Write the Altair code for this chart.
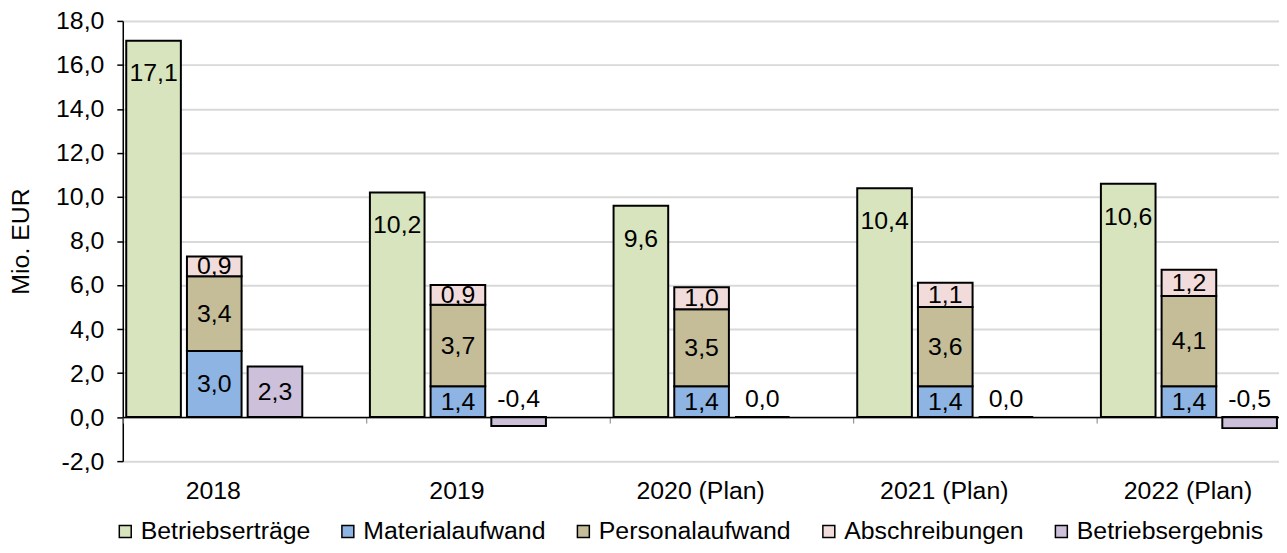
import altair as alt
import pandas as pd

years = ["2018", "2019", "2020 (Plan)", "2021 (Plan)", "2022 (Plan)"]
ertraege = [17.1, 10.2, 9.6, 10.4, 10.6]
material = [3.0, 1.4, 1.4, 1.4, 1.4]
personal = [3.4, 3.7, 3.5, 3.6, 4.1]
abschreibungen = [0.9, 0.9, 1.0, 1.1, 1.2]
ergebnis = [2.3, -0.4, 0.0, 0.0, -0.5]

series_names = ["Betriebserträge", "Materialaufwand", "Personalaufwand",
                "Abschreibungen", "Betriebsergebnis"]
series_colors = ["#d7e4bd", "#8db4e2", "#c4bd97", "#f2dcdb", "#ccc0da"]
y_ticks = [-2, 0, 2, 4, 6, 8, 10, 12, 14, 16, 18]

rows = []
for i, yr in enumerate(years):
    rows.append(dict(year=yr, slot="A", series=series_names[0],
                     value=ertraege[i], y0=0.0, y1=ertraege[i]))
    base = 0.0
    for name, arr in [(series_names[1], material), (series_names[2], personal),
                      (series_names[3], abschreibungen)]:
        rows.append(dict(year=yr, slot="B", series=name, value=arr[i],
                         y0=base, y1=base + arr[i]))
        base += arr[i]
    rows.append(dict(year=yr, slot="C", series=series_names[4],
                     value=ergebnis[i], y0=0.0, y1=ergebnis[i]))
df = pd.DataFrame(rows)

FONT = "Liberation Sans, Arial, sans-serif"
FS = 25
W = 1163.5
H = 443

x_enc = alt.X(
    "year:N", sort=years,
    scale=alt.Scale(domain=years, range=[0, 1226], paddingInner=0, paddingOuter=0),
    axis=alt.Axis(title=None, bandPosition=0, domain=True, domainColor="black",
                  domainWidth=1.5, ticks=True, tickSize=6, tickColor="#7f7f7f",
                  tickWidth=1, labelOffset=-31.5, labelPadding=56, offset=-44.3,
                  labelFontSize=FS, labelColor="black", labelAngle=0,
                  labelFont=FONT, grid=False, zindex=1, labelOverlap=False),
)
xoff_enc = alt.XOffset("slot:N", scale=alt.Scale(domain=["A", "B", "C", "D"],
                                                  paddingInner=0.1, paddingOuter=0.057))
y_scale = alt.Scale(domain=[-2, 18], nice=False, zero=False)

base = alt.Chart(df)

bars = base.mark_bar(stroke="black", strokeWidth=2).encode(
    x=x_enc,
    xOffset=xoff_enc,
    y=alt.Y("y1:Q", scale=y_scale,
            axis=alt.Axis(values=y_ticks, format=".1f", title="Mio. EUR",
                          labelFontSize=FS, labelColor="black", labelFont=FONT,
                          labelPadding=13, tickSize=6, tickColor="black",
                          tickWidth=1.5, domainColor="black", domainWidth=1.5,
                          gridColor="#d9d9d9", gridWidth=2,
                          titleFontSize=FS, titleFontWeight="normal",
                          titleColor="black", titleFont=FONT, titlePadding=22)),
    y2="y0:Q",
    color=alt.Color("series:N",
                    scale=alt.Scale(domain=series_names, range=series_colors),
                    legend=alt.Legend(title=None, orient="none", legendX=-10,
                                      legendY=501, direction="horizontal",
                                      columns=5, symbolType="square",
                                      symbolSize=144, symbolStrokeColor="black",
                                      symbolStrokeWidth=1.5, symbolOpacity=1,
                                      labelFontSize=FS, labelFont=FONT,
                                      labelColor="black", labelOffset=3,
                                      columnPadding=25, labelLimit=0)),
)

txt = dict(fontSize=FS, font=FONT, color="black", baseline="middle")
text_enc = dict(x=x_enc, xOffset=xoff_enc,
                text=alt.Text("value:Q", format=".1f"))

lab_green = base.transform_filter("datum.slot == 'A'").mark_text(dy=33, **txt).encode(
    y=alt.Y("y1:Q", scale=y_scale), **text_enc)
lab_stack = base.transform_filter("datum.slot == 'B' || (datum.slot == 'C' && datum.value > 1)") \
    .transform_calculate(mid="(datum.y0 + datum.y1) / 2") \
    .mark_text(**txt).encode(y=alt.Y("mid:Q", scale=y_scale), **text_enc)
lab_small = base.transform_filter("datum.slot == 'C' && datum.value <= 1") \
    .transform_calculate(zero="0") \
    .mark_text(dy=-18, **txt).encode(y=alt.Y("zero:Q", scale=y_scale), **text_enc)

chart = alt.layer(bars, lab_green, lab_stack, lab_small).properties(
    width=W, height=H,
    autosize=alt.AutoSizeParams(type="none"),
    padding={"left": 115.5, "top": 11.3, "right": 0, "bottom": 82.7},
).configure_view(strokeWidth=0).configure(
    font=FONT,
    locale={"number": {"decimal": ",", "thousands": ".", "grouping": [3],
                       "currency": ["", " €"], "minus": "-"}},
)

chart.save("out.html", embed_options={"renderer": "svg", "actions": False})
